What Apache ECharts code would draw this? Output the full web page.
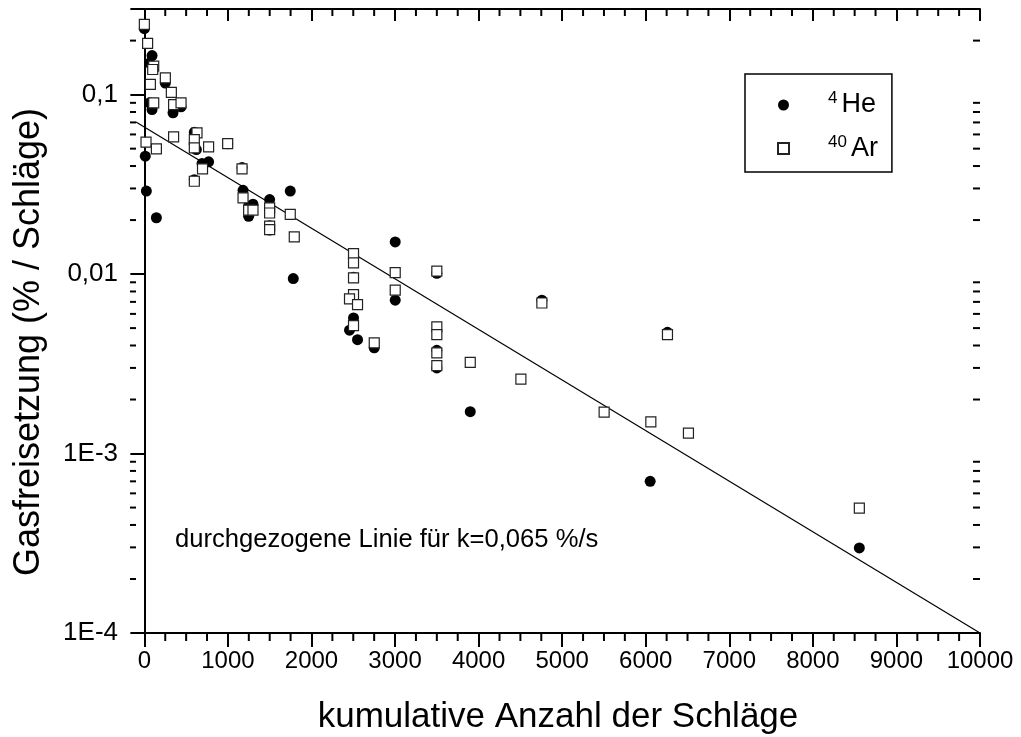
<!DOCTYPE html>
<html>
<head>
<meta charset="utf-8">
<script src="https://cdn.jsdelivr.net/npm/echarts@6/dist/echarts.min.js"></script>
<style>
html,body{margin:0;padding:0;background:#fff;}
#chart{width:1021px;height:737px;}
</style>
</head>
<body>
<div id="chart"></div>
<script>
// ---- data ----
const heX = [0, 92, 63, 251, 63, 92, 343, 439, 598, 622, 997, 11, 690, 769, 1169, 598, 24, 1181, 1746, 1499, 1248, 1300, 1248, 144, 1499, 1499, 3002, 1782, 2503, 3500, 3002, 4757, 2503, 2455, 2551, 2751, 3500, 3500, 6260, 3900, 6053, 8556];
const heY = [0.233, 0.165, 0.150, 0.116, 0.090, 0.0826, 0.0792, 0.0855, 0.0617, 0.0494, 0.0533, 0.0454, 0.0413, 0.0422, 0.0392, 0.0336, 0.0290, 0.0293, 0.0290, 0.0260, 0.0239, 0.0245, 0.0210, 0.0206, 0.0186, 0.0176, 0.0151, 0.00944, 0.0096, 0.0101, 0.00715, 0.00715, 0.0057, 0.00487, 0.00431, 0.00388, 0.00376, 0.0030, 0.00474, 0.00171, 0.0007, 0.000298];

const arX = [0, 39, 112, 100, 251, 72, 323, 112, 350, 439, 630, 598, 598, 769, 997, 350, 20, 144, 696, 1169, 598, 1181, 1746, 1499, 1499, 1248, 1300, 1499, 1499, 1794, 2503, 2503, 3002, 3500, 2503, 3002, 2503, 2455, 2551, 2503, 2751, 3500, 3500, 3500, 3500, 3900, 4757, 4506, 6260, 5502, 6061, 6511, 8556];
const arY = [0.246, 0.193, 0.144, 0.138, 0.124, 0.114, 0.103, 0.090, 0.088, 0.090, 0.0612, 0.0562, 0.0505, 0.0512, 0.0533, 0.0582, 0.0543, 0.0499, 0.0386, 0.0386, 0.0329, 0.0266, 0.0215, 0.0234, 0.0219, 0.0227, 0.0227, 0.0185, 0.0177, 0.0161, 0.0130, 0.01154, 0.0102, 0.0104, 0.00953, 0.00813, 0.00769, 0.00728, 0.00676, 0.00516, 0.00414, 0.00508, 0.0046, 0.00364, 0.00309, 0.00322, 0.0069, 0.0026, 0.0046, 0.0017, 0.0015, 0.0013, 0.000497];

const fitX = [-100, 10000];
const fitY = [0.0704, 0.0001];

const seriesMass = ['4', '40'];
const seriesElement = ['He', 'Ar'];

const xMin = -100, xMax = 10000;
const yMin = 0.0001, yMax = 0.3;
const xMajorTicks = [0, 1000, 2000, 3000, 4000, 5000, 6000, 7000, 8000, 9000, 10000];
const xMinorTicks = [250, 500, 750, 1250, 1500, 1750, 2250, 2500, 2750, 3250, 3500, 3750, 4250, 4500, 4750, 5250, 5500, 5750, 6250, 6500, 6750, 7250, 7500, 7750, 8250, 8500, 8750, 9250, 9500, 9750];
const yTickValues = [0.0001, 0.001, 0.01, 0.1];
const yTickLabels = ['1E-4', '1E-3', '0,01', '0,1'];
const yMinorTicks = [0.0002, 0.0003, 0.0004, 0.0005, 0.0006, 0.0007, 0.0008, 0.0009,
  0.002, 0.003, 0.004, 0.005, 0.006, 0.007, 0.008, 0.009,
  0.02, 0.03, 0.04, 0.05, 0.06, 0.07, 0.08, 0.09, 0.2];

const xTitle = 'kumulative Anzahl der Schläge';
const yTitle = 'Gasfreisetzung (% / Schläge)';
const note = 'durchgezogene Linie für k=0,065 %/s';

// ---- chart ----
const FONT = '"Liberation Sans", Arial, Helvetica, sans-serif';
const chart = echarts.init(document.getElementById('chart'), null, {renderer: 'canvas'});

function yLabel(v) {
  const l = Math.log10(v);
  for (let i = 0; i < yTickValues.length; i++) {
    if (Math.abs(l - Math.log10(yTickValues[i])) < 1e-6) return yTickLabels[i];
  }
  return '';
}

const lineStyleAxis = {color: '#000', width: 2};
const tickStyle = {color: '#000', width: 2};
const yMid = 0.01;

const option = {
  animation: false,
  backgroundColor: '#fff',
  textStyle: {fontFamily: FONT},
  grid: {left: 136, right: 41, top: 9, bottom: 104, containLabel: false, outerBoundsMode: 'none'},
  legend: {
    orient: 'vertical',
    left: 745, top: 74,
    padding: [16, 14, 10, 32],
    itemGap: 15,
    itemWidth: 11, itemHeight: 11,
    borderColor: '#000', borderWidth: 1.5,
    backgroundColor: '#fff',
    data: ['He', 'Ar'],
    formatter: function (name) {
      const i = seriesElement.indexOf(name);
      return '{g|}{s|' + seriesMass[i] + '}{m|' + seriesElement[i] + '}';
    },
    textStyle: {
      fontFamily: FONT,
      rich: {
        g: {width: 34, height: 30},
        s: {fontSize: 17, lineHeight: 17, verticalAlign: 'top', color: '#000', fontFamily: FONT, padding: [0, 4, 0, 0]},
        m: {fontSize: 27, lineHeight: 30, color: '#000', fontFamily: FONT}
      }
    }
  },
  xAxis: [
    {
      type: 'value', position: 'bottom', min: xMin, max: xMax,
      name: xTitle, nameLocation: 'middle', nameGap: 67,
      nameTextStyle: {fontSize: 35, color: '#000', fontFamily: FONT},
      axisLine: {show: true, lineStyle: lineStyleAxis},
      axisTick: {show: true, inside: false, length: 14, customValues: xMajorTicks, lineStyle: tickStyle},
      axisLabel: {show: true, customValues: xMajorTicks, margin: 16, fontSize: 24, color: '#000', fontFamily: FONT,
        formatter: function (v) { return String(v); }},
      splitLine: {show: false}
    },
    {
      type: 'value', position: 'top', min: xMin, max: xMax,
      axisLine: {show: true, lineStyle: lineStyleAxis},
      axisTick: {show: true, inside: true, length: 12, customValues: xMajorTicks, lineStyle: tickStyle},
      axisLabel: {show: false},
      splitLine: {show: false}
    }
  ],
  yAxis: [
    {
      type: 'log', logBase: 10, position: 'left', min: yMin, max: yMax,
      axisLine: {show: true, lineStyle: lineStyleAxis},
      axisTick: {show: true, inside: false, length: 12, lineStyle: tickStyle},
      axisLabel: {show: true, margin: 18, fontSize: 26, color: '#000', fontFamily: FONT, formatter: yLabel},
      splitLine: {show: false}, minorTick: {show: false}
    },
    {
      type: 'log', logBase: 10, position: 'right', min: yMin, max: yMax,
      axisLine: {show: true, lineStyle: lineStyleAxis},
      axisTick: {show: true, inside: true, length: 14, lineStyle: tickStyle},
      axisLabel: {show: false},
      splitLine: {show: false}
    }
  ],
  graphic: [
    {
      type: 'text', left: 175, top: 527,
      style: {text: note, fontSize: 25.6, fill: '#000', fontFamily: FONT}
    },
    {
      type: 'text', x: 29, y: 342, rotation: Math.PI / 2,
      style: {text: yTitle, fontSize: 36, fill: '#000', fontFamily: FONT, align: 'center', verticalAlign: 'middle'}
    }
  ],
  series: [
    {
      name: 'fit', type: 'line', xAxisIndex: 0, yAxisIndex: 0,
      data: fitX.map((x, i) => [x, fitY[i]]),
      showSymbol: false, symbol: 'none', silent: true,
      lineStyle: {color: '#000', width: 1.2}, z: 3
    },
    {
      name: 'He', type: 'scatter', xAxisIndex: 0, yAxisIndex: 0,
      data: heX.map((x, i) => [x, heY[i]]),
      symbol: 'circle', symbolSize: 11,
      itemStyle: {color: '#000', opacity: 1}, z: 4
    },
    {
      name: 'Ar', type: 'scatter', xAxisIndex: 0, yAxisIndex: 0,
      data: arX.map((x, i) => [x, arY[i]]),
      symbol: 'rect', symbolSize: 10,
      itemStyle: {color: '#fff', borderColor: '#222', borderWidth: 1.2, opacity: 1}, z: 5
    },
    {
      name: 'yMinorTicks', type: 'custom', xAxisIndex: 0, yAxisIndex: 0, silent: true, clip: false, z: 6,
      data: yMinorTicks.map(v => [xMin, v]),
      renderItem: function (params, api) {
        const v = api.value(1);
        const pL = api.coord([xMin, v]);
        const pR = api.coord([xMax, v]);
        return {type: 'group', children: [
          {type: 'line', shape: {x1: pL[0] - 6, y1: pL[1], x2: pL[0], y2: pL[1]}, style: {stroke: '#000', lineWidth: 2}},
          {type: 'line', shape: {x1: pR[0] - 7, y1: pR[1], x2: pR[0], y2: pR[1]}, style: {stroke: '#000', lineWidth: 2}}
        ]};
      }
    },
    {
      name: 'xMinorTicks', type: 'custom', xAxisIndex: 0, yAxisIndex: 0, silent: true, clip: false, z: 6,
      data: xMinorTicks.map(v => [v, yMid]),
      renderItem: function (params, api) {
        const p = api.coord([api.value(0), yMid]);
        const cs = params.coordSys;
        const yb = cs.y + cs.height;
        const yt = cs.y;
        return {type: 'group', children: [
          {type: 'rect', shape: {x: p[0] - 1, y: yb, width: 2, height: 8}, style: {fill: '#000'}},
          {type: 'rect', shape: {x: p[0] - 1, y: yt, width: 2, height: 7}, style: {fill: '#000'}}
        ]};
      }
    }
  ]
};
chart.setOption(option);
</script>
</body>
</html>
